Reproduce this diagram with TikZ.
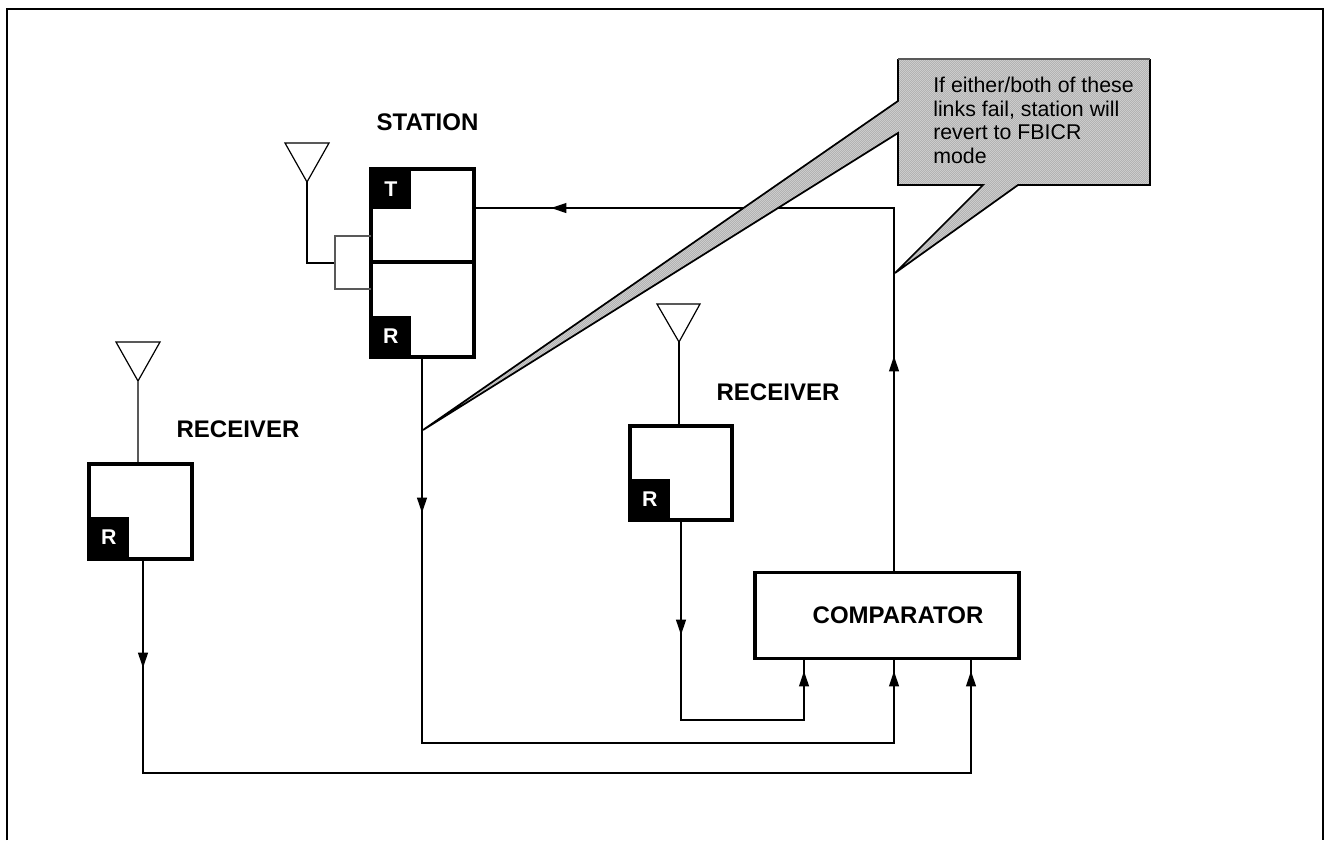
\documentclass[tikz,border=0pt]{standalone}
\usepackage{fontspec}
\setmainfont{Liberation Sans}
\usetikzlibrary{arrows.meta,patterns}
\definecolor{shade}{gray}{0.80}
\pgfdeclarepatternformonly{ditherdots}{\pgfpoint{-0.1pt}{-0.1pt}}{\pgfpoint{1.6pt}{1.6pt}}{\pgfpoint{1.5pt}{1.5pt}}{%
  \pgfpathrectangle{\pgfpoint{0pt}{0pt}}{\pgfpoint{0.6pt}{0.6pt}}%
  \pgfpathrectangle{\pgfpoint{0.75pt}{0.75pt}}{\pgfpoint{0.6pt}{0.6pt}}%
  \pgfusepath{fill}}
\tikzset{
  x=0.75pt,y=-0.75pt,
  unitbox/.style={draw=black,line width=2.4pt,fill=white},
  tag/.style={fill=black,text=white,font=\bfseries\fontsize{16}{18}\selectfont,inner sep=0,minimum width=29.5pt,minimum height=29.5pt},
  lab/.style={font=\bfseries\fontsize{18}{20}\selectfont,inner sep=0},
  wire/.style={draw=black,line width=1pt},
  thin wire/.style={draw=black!65,line width=0.8pt},
  tip/.style={-{Triangle[length=11.5pt,width=7.4pt]}},
  ant/.style={draw=black,line width=0.9pt,fill=white},
}
\begin{document}
\begin{tikzpicture}
\useasboundingbox (0,0) rectangle (1329,840);
\draw[line width=1.6pt] (7,840) -- (7,9) -- (1323,9) -- (1323,840);
% station
\draw[unitbox] (371,169) rectangle (474,357);
\draw[line width=2.4pt] (371,262) -- (474,262);
\node[tag,anchor=north west] (T1) at (371,169) {T};
\node[tag,anchor=south west] (R1) at (371,356) {R};
\node[lab] (sta) at (427.5,122) {STATION};
% station antenna
\draw[ant] (285,143) -- (329,143) -- (307,182) -- cycle;
\coordinate (a1) at (307,182);
\coordinate (a2) at (307,263);
\coordinate (a3) at (335,263);
\draw[wire] (a1) -- (a2) -- (a3);
\draw[thin wire] (371,236) -- (335,236) -- (335,289) -- (371,289);
% receiver left
\draw[unitbox] (89,464) rectangle (192,559);
\node[tag,anchor=south west] (R2) at (89,557) {R};
\node[lab] (rc1) at (238,429) {RECEIVER};
\draw[ant] (116,342) -- (160,342) -- (138,381) -- cycle;
\draw[thin wire] (138,381) -- (138,462);
% receiver mid
\draw[unitbox] (630,426) rectangle (732,520);
\node[tag,anchor=south west] (R3) at (630,519) {R};
\node[lab] (rc2) at (778,392) {RECEIVER};
\draw[ant] (657,304) -- (700,304) -- (679,342) -- cycle;
\draw[wire] (679,342) -- (679,424);
% comparator
\node[draw=black,line width=2.4pt,minimum width=198pt,minimum height=65pt,inner sep=0] (cmp) at (887,615.5) {};
\node[lab] (cmpl) at (898,615) {COMPARATOR};
% wires
\draw[wire] (894,572) -- (894,208) -- (474,208);
\draw[wire,tip] (894,372) -- (894,356);
\draw[wire,tip] (569,208) -- (551,208);
\draw[wire] (422,357) -- (422,743) -- (894,743) -- (894,659);
\draw[wire,tip] (422,497) -- (422,513);
\draw[wire,tip] (894,687) -- (894,671);
\draw[wire] (681,520) -- (681,720) -- (804,720) -- (804,659);
\draw[wire,tip] (681,620) -- (681,635);
\draw[wire,tip] (804,687) -- (804,671);
\draw[wire] (143,558) -- (143,773) -- (971,773) -- (971,659);
\draw[wire,tip] (143,653) -- (143,668);
\draw[wire,tip] (971,687) -- (971,671);
% callout
\path[fill=shade]
 (895,273) -- (1018,185) -- (1150,185) -- (1150,59) -- (898,59)
 -- (898,101) -- (423,430) -- (898,133) -- (898,185) -- (983,185) -- cycle;
\path[pattern=ditherdots,pattern color=black!30]
 (895,273) -- (1018,185) -- (1150,185) -- (1150,59) -- (898,59)
 -- (898,101) -- (423,430) -- (898,133) -- (898,185) -- (983,185) -- cycle;
\draw[line width=1.3pt,line join=miter]
 (1150,59) -- (1150,185) -- (1018,185) -- (895,273) -- (983,185) -- (898,185) -- (898,133) -- (423,430) -- (898,101) -- (898,59);
\draw[line width=0.8pt,draw=black!65] (898,59) -- (1150,59);
\node[font=\fontsize{16}{17.7}\selectfont,align=left,anchor=north west,inner sep=0] (call) at (933,77) {If either/both of these\\links fail, station will\\revert to FBICR\\mode};
\end{tikzpicture}
\end{document}
